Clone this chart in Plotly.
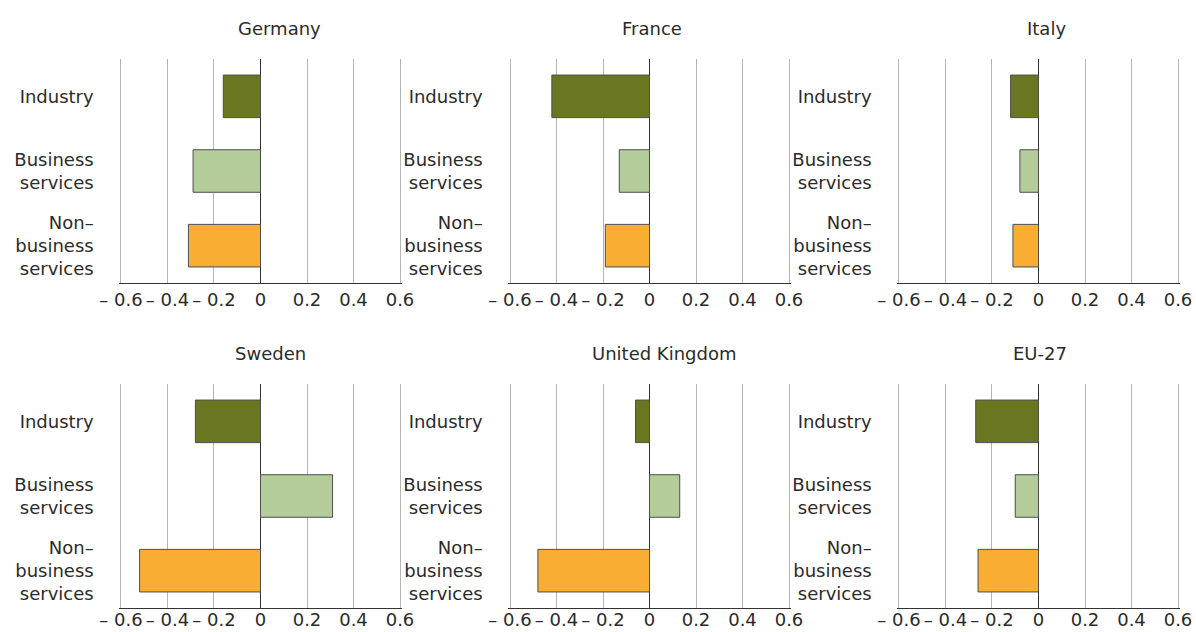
import plotly.graph_objects as go

countries = ["Germany", "France", "Italy", "Sweden", "United Kingdom", "EU-27"]
sectors = ["Industry", "Business<br>services", "Non–<br>business<br>services"]
industry = [-0.16, -0.42, -0.12, -0.28, -0.06, -0.27]
business = [-0.29, -0.13, -0.08, 0.31, 0.13, -0.10]
non_business = [-0.31, -0.19, -0.11, -0.52, -0.48, -0.26]
tick_vals = [-0.6, -0.4, -0.2, 0, 0.2, 0.4, 0.6]
tick_text = ["– 0.6", "– 0.4", "– 0.2", "0", "0.2", "0.4", "0.6"]

COLORS = ["#6b7621", "#b3cc99", "#f9ae33"]
W, H = 1196, 632
FONT = dict(family="DejaVu Sans, Verdana, sans-serif", size=18, color="#2b2b2b")

# pixel boxes of each panel (left, right, top, bottom), at x = -0.6 / 0.6
cols = [(121, 400), (510, 789), (899, 1178)]
rows = [(59, 283), (384, 608)]
title_x = [279, 652, 1046, 270, 664, 1040]
title_y = [28, 353]
PAD = 0.01  # little extra range so the edge gridlines get drawn

fig = go.Figure()
for i, name in enumerate(countries):
    r, c = divmod(i, 3)
    n = i + 1
    xa = "x" if n == 1 else f"x{n}"
    ya = "y" if n == 1 else f"y{n}"
    vals = [industry[i], business[i], non_business[i]]
    fig.add_bar(x=vals, y=sectors, orientation="h", xaxis=xa, yaxis=ya,
                marker=dict(color=COLORS, line=dict(color="#4d4d4d", width=1)),
                width=0.57, showlegend=False, hoverinfo="x+y")
    x0, x1 = cols[c]
    y0, y1 = rows[r]
    extra = (x1 - x0) / 1.2 * PAD
    fig.layout[f"xaxis{'' if n == 1 else n}"] = dict(
        domain=[(x0 - extra) / W, (x1 + extra) / W], anchor=ya,
        range=[-0.6 - PAD, 0.6 + PAD], tickangle=0, automargin=False,
        tickvals=tick_vals, ticktext=tick_text, showgrid=True,
        gridcolor="#b5b5b5", gridwidth=1, zeroline=True, zerolinecolor="#333",
        zerolinewidth=1, showline=True, linecolor="#333", linewidth=1,
        ticklabelstandoff=0 if r == 0 else -5,
        tickfont=FONT, fixedrange=True)
    fig.layout[f"yaxis{'' if n == 1 else n}"] = dict(
        domain=[1 - y1 / H, 1 - y0 / H], anchor=xa, autorange="reversed",
        categoryorder="array", categoryarray=sectors, showgrid=False,
        showline=False, tickfont=FONT, ticklabelstandoff=round(26 - extra),
        automargin=False, fixedrange=True)
    fig.add_annotation(text=name, x=title_x[i] / W, y=1 - title_y[r] / H,
                       xref="paper", yref="paper", showarrow=False,
                       xanchor="center", yanchor="middle", font=FONT)

fig.update_layout(width=W, height=H, margin=dict(l=0, r=0, t=0, b=0),
                  plot_bgcolor="white", paper_bgcolor="white", bargap=0.43,
                  font=FONT)
# drop the browser's default 8px body margin so the figure fills the window
fig.write_html("out.html", config={"displayModeBar": False},
               post_script="document.body.style.margin='0';")
